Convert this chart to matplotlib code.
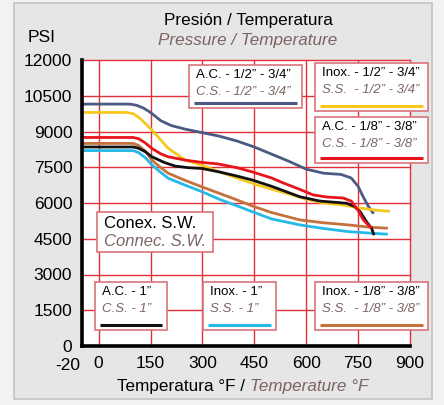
import matplotlib
matplotlib.use("Agg")
import matplotlib.pyplot as plt
from matplotlib.patches import Rectangle

plt.rcParams['font.family'] = ['Liberation Sans', 'DejaVu Sans']

# temperature (F) / pressure (psi)
navy_t = [-48, 90, 110, 130, 150, 180, 210, 250, 300, 350, 400, 450, 500, 550, 600, 650, 700, 730, 750, 765, 780, 795]
navy_p = [10150, 10150, 10100, 9980, 9800, 9450, 9250, 9100, 8950, 8800, 8600, 8350, 8050, 7750, 7420, 7250, 7200, 7050, 6700, 6250, 5850, 5550]

yellow_t = [-48, 80, 100, 120, 154, 201, 250, 300, 350, 400, 450, 500, 550, 600, 650, 700, 750, 800, 842]
yellow_p = [9800, 9800, 9750, 9550, 9060, 8300, 7800, 7580, 7300, 7050, 6800, 6580, 6380, 6160, 6000, 5930, 5800, 5700, 5650]

red_t = [-48, 100, 115, 135, 154, 180, 201, 250, 300, 345, 400, 443, 500, 534, 580, 620, 660, 707, 730, 750, 765, 789]
red_p = [8750, 8750, 8700, 8520, 8290, 8060, 7940, 7800, 7700, 7640, 7480, 7310, 7050, 6840, 6580, 6340, 6250, 6210, 6080, 5700, 5290, 4940]

black_t = [-48, 100, 115, 135, 154, 190, 221, 260, 298, 350, 400, 443, 500, 582, 640, 717, 740, 756, 775, 789, 796]
black_p = [8350, 8350, 8300, 8150, 7940, 7700, 7550, 7480, 7450, 7300, 7130, 6970, 6700, 6260, 6080, 5990, 5850, 5630, 5200, 4940, 4650]

brown_t = [-48, 100, 115, 135, 154, 180, 201, 250, 298, 350, 400, 443, 500, 582, 650, 722, 780, 836]
brown_p = [8500, 8500, 8420, 8180, 7800, 7480, 7250, 6950, 6680, 6400, 6130, 5880, 5600, 5290, 5170, 5080, 4990, 4940]

cyan_t = [-48, 100, 115, 135, 154, 180, 201, 250, 298, 350, 400, 443, 500, 582, 650, 722, 780, 836]
cyan_p = [8200, 8200, 8120, 7900, 7600, 7280, 7040, 6750, 6480, 6150, 5880, 5640, 5330, 5080, 4930, 4800, 4740, 4690]

x_ticks = [0, 150, 300, 450, 600, 750, 900]
y_ticks = [0, 1500, 3000, 4500, 6000, 7500, 9000, 10500, 12000]

c_navy = '#4b5a82'
c_yellow = '#f6c81e'
c_red = '#e8141c'
c_black = '#111111'
c_brown = '#c4713e'
c_cyan = '#26b9e8'
c_grid = '#e0303a'
c_box = '#d9737a'
c_ital = '#7d6464'

W, H = 444, 405
fig = plt.figure(figsize=(W / 100, H / 100), dpi=100)
fig.patch.set_facecolor('#f2f2f2')

# background panel
bg = fig.add_axes([0, 0, 1, 1], zorder=0)
bg.set_xlim(0, W)
bg.set_ylim(H, 0)
bg.axis('off')
bg.add_patch(Rectangle((14, 3), 418, 396, facecolor='#e6e6e6', edgecolor='#c4c4c4', lw=1.2))

ax = fig.add_axes([82 / W, (H - 346) / H, (410 - 82) / W, (346 - 60) / H], zorder=1)
ax.set_facecolor('white')
ax.set_xlim(-48, 900)
ax.set_ylim(0, 12000)
for v in x_ticks:
    ax.axvline(v, color=c_grid, lw=1.0, zorder=1, clip_on=False)
for v in y_ticks[1:]:
    ax.axhline(v, color=c_grid, lw=1.0, zorder=1, clip_on=False)

for t, p, c in [(navy_t, navy_p, c_navy), (yellow_t, yellow_p, c_yellow),
                (brown_t, brown_p, c_brown), (cyan_t, cyan_p, c_cyan),
                (black_t, black_p, c_black), (red_t, red_p, c_red)]:
    ax.plot(t, p, color=c, lw=2.0, solid_capstyle='butt', zorder=3)

for s in ['top', 'right']:
    ax.spines[s].set_visible(False)
for s in ['left', 'bottom']:
    ax.spines[s].set_linewidth(2.6)
    ax.spines[s].set_color('black')
    ax.spines[s].set_zorder(4)
ax.set_xticks(x_ticks)
ax.set_yticks(y_ticks)
ax.tick_params(length=0, labelsize=12.5, pad=7)
ax.set_xticklabels([str(v) for v in x_ticks])
ax.set_yticklabels([str(v) for v in y_ticks])

# overlay for boxes and text, pixel coords
ov = fig.add_axes([0, 0, 1, 1], zorder=5)
ov.set_xlim(0, W)
ov.set_ylim(H, 0)
ov.axis('off')
ov.patch.set_alpha(0)

ov.text(68, 365, '-20', fontsize=12.5, ha='center', va='center')
ov.text(42, 37, 'PSI', fontsize=12.5, ha='center', va='center')
ov.text(248, 20, 'Presión / Temperatura', fontsize=12.3, ha='center', va='center')
ov.text(248, 40, 'Pressure / Temperature', fontsize=12.3, ha='center', va='center',
        style='italic', color=c_ital)
ov.text(250, 386, 'Temperatura °F / ', fontsize=12.3, ha='right', va='center')
ov.text(250, 386, 'Temperature °F', fontsize=12.3, ha='left', va='center',
        style='italic', color=c_ital)

boxes = [
    (189, 65, 302, 108, 'A.C. - 1/2” - 3/4”', 'C.S. - 1/2” - 3/4”', c_navy),
    (315, 63, 428, 111, 'Inox. - 1/2” - 3/4”', 'S.S.  - 1/2” - 3/4”', c_yellow),
    (315, 117, 428, 163, 'A.C. - 1/8” - 3/8”', 'C.S. - 1/8” - 3/8”', c_red),
    (95, 282, 167, 330, 'A.C. - 1”', 'C.S. - 1”', c_black),
    (203, 282, 276, 330, 'Inox. - 1”', 'S.S. - 1”', c_cyan),
    (315, 282, 428, 330, 'Inox. - 1/8” - 3/8”', 'S.S.  - 1/8” - 3/8”', c_brown),
]
for x0, y0, x1, y1, l1, l2, c in boxes:
    ov.add_patch(Rectangle((x0, y0), x1 - x0, y1 - y0, facecolor='white',
                           edgecolor=c_box, lw=1.2))
    ov.text(x0 + 7, y0 + 10, l1, fontsize=9.5, ha='left', va='center')
    ov.text(x0 + 7, y0 + 27, l2, fontsize=9.5, ha='left', va='center',
            style='italic', color=c_ital)
    ov.plot([x0 + 5, x1 - 5], [y1 - 5, y1 - 5], color=c, lw=2.2, solid_capstyle='butt')

ov.add_patch(Rectangle((97, 212), 116, 40, facecolor='white', edgecolor=c_box, lw=1.2))
ov.text(104, 223, 'Conex. S.W.', fontsize=12, ha='left', va='center')
ov.text(104, 242, 'Connec. S.W.', fontsize=12, ha='left', va='center',
        style='italic', color=c_ital)

fig.savefig('out.png', dpi=100, facecolor=fig.get_facecolor())
